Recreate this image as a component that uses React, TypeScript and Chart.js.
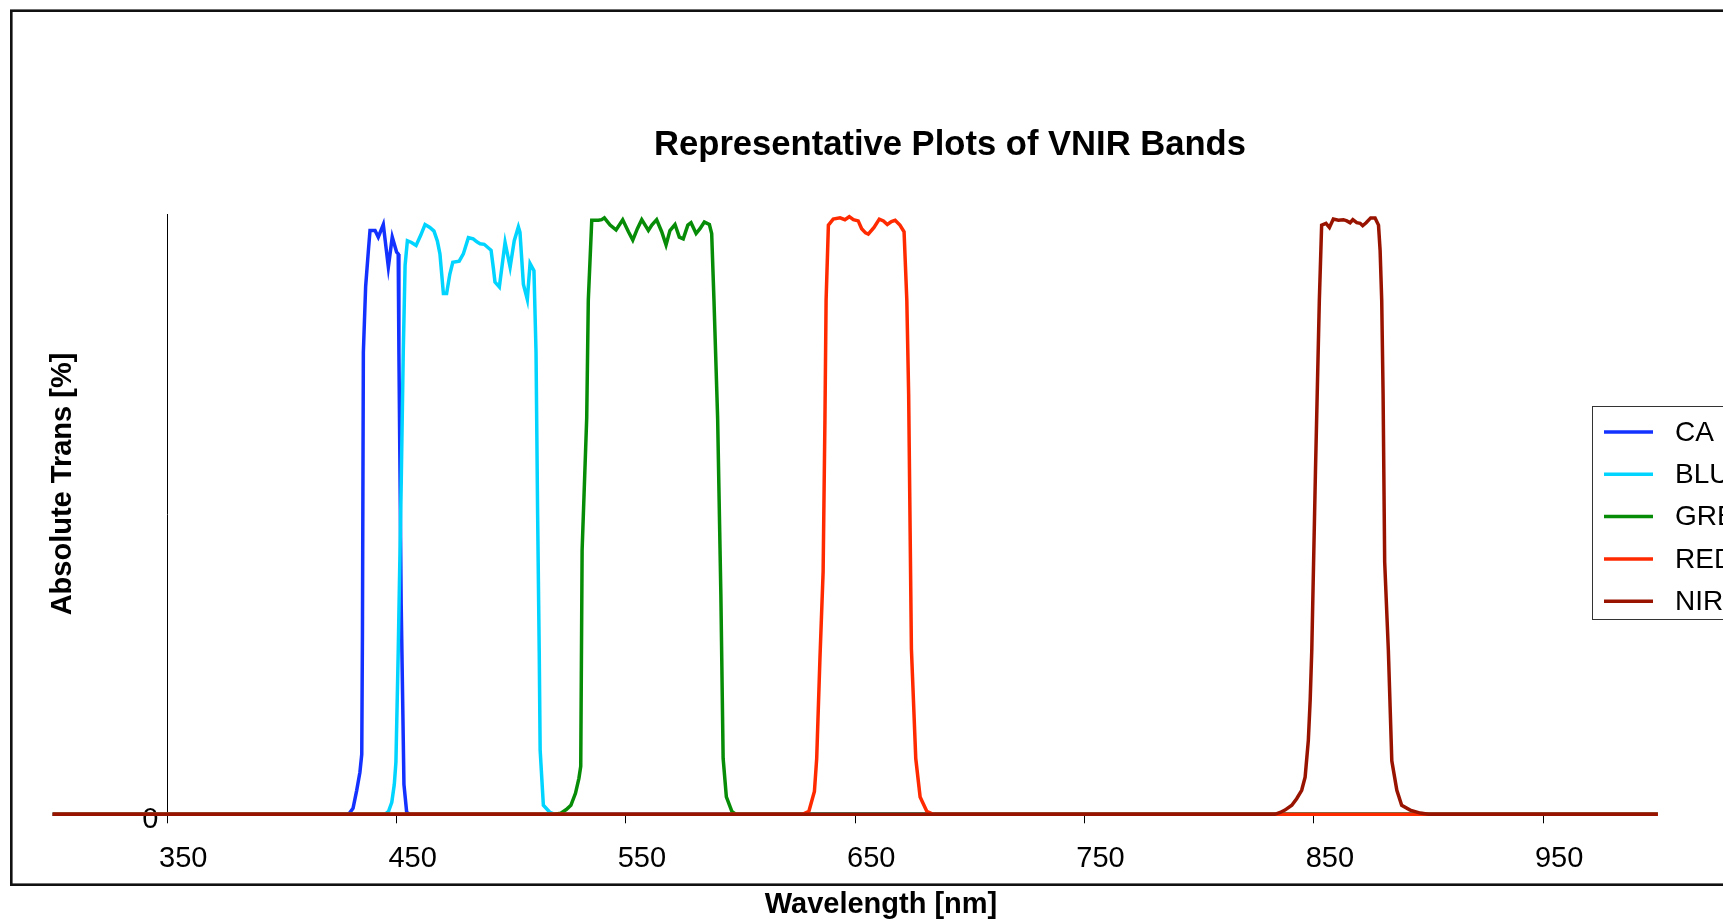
import { useEffect, useRef } from 'react';
import { Chart, registerables } from 'chart.js';

Chart.register(...registerables);

// ---- data ----
const seriesNames = ['CA', 'BLUE', 'GREEN', 'RED', 'NIR'];
const seriesColors = ['#1432FF', '#00D4FF', '#078C07', '#FF2A00', '#991400'];

// [wavelength nm, transmission %]
const caPoints = [
  [300, 0], [428, 0], [429.5, 0.2], [431, 1], [432.6, 4], [434, 7], [434.8, 10], [435.1, 30], [435.5, 77],
  [436.5, 88], [437.7, 94], [438.4, 97.3], [440.6, 97.3], [442, 96.2], [444.2, 98.3], [446.4, 91.2],
  [448.1, 96.2], [450, 93.7], [450.7, 93.4], [451, 77], [452, 35], [453.2, 5], [454.4, 0.3], [456, 0], [1000, 0],
];
const bluePoints = [
  [300, 0], [444.9, 0], [446.5, 0.5], [447.9, 2], [449, 5], [449.7, 8.7], [450.7, 27], [452, 55], [452.9, 77],
  [453.7, 91.5], [454.7, 95.6], [456.5, 95.3], [458.5, 94.8], [460.5, 96.5], [462.4, 98.3], [464.5, 97.8],
  [466.3, 97.2], [467.8, 95.5], [468.9, 93.4], [470.4, 86.8], [471.8, 86.8], [473.2, 90], [474.5, 92],
  [477.3, 92.2], [479.1, 93.4], [481.3, 96.1], [483.4, 95.9], [485, 95.4], [486.4, 95.1], [488.2, 95],
  [491.2, 94], [492.2, 91], [492.9, 88.7], [494.8, 87.9], [497.3, 95.3], [499.5, 91.2], [501.3, 95.6],
  [503.1, 97.9], [503.8, 97], [505.3, 88.3], [507, 85.8], [508.2, 91.8], [509.9, 90.6], [510.8, 77],
  [511.5, 50], [512.2, 27], [512.6, 10.7], [514, 1.5], [516.9, 0.3], [519, 0], [1000, 0],
];
const greenPoints = [
  [300, 0], [519, 0], [521.6, 0.2], [524, 0.8], [526, 1.5], [528, 3.5], [529.5, 6], [530.3, 8], [530.9, 44],
  [532.9, 66], [533.6, 85.7], [535.1, 99], [538, 99], [539.4, 99.1], [540.6, 99.4], [543.1, 98.2],
  [545.7, 97.4], [548.6, 99.1], [551.1, 97.1], [553, 95.7], [555, 97.6], [556.9, 99.1], [559.8, 97.3],
  [561.3, 98.2], [563.4, 99.1], [565.6, 97.1], [567.5, 94.9], [569.2, 97.3], [571.4, 98.3], [573.3, 96.2],
  [575, 95.9], [577, 98.2], [578.4, 98.6], [580.6, 96.8], [582.3, 97.6], [584.2, 98.7], [586.4, 98.3],
  [587.4, 96.8], [588.4, 85.7], [590, 66], [591.4, 36.8], [592.4, 9.3], [593.8, 2.9], [596.2, 0.5],
  [598, 0], [1000, 0],
];
const redPoints = [
  [300, 0], [627, 0], [629.8, 0.5], [632.2, 3.8], [633.2, 9.3], [634.6, 25.8], [636, 40.4], [636.8, 66],
  [637.3, 85.7], [638.3, 98.2], [640.4, 99.2], [643.4, 99.4], [645.5, 99.1], [647.4, 99.6], [649.2, 99.1],
  [651.3, 98.9], [652.8, 97.6], [654.5, 96.9], [655.7, 96.7], [658.2, 97.8], [660.5, 99.2], [662.3, 98.9],
  [664, 98.3], [665.8, 98.8], [667.4, 99], [669.5, 98.2], [671.3, 97.1], [672.5, 85.7], [673.3, 70],
  [674.5, 27.6], [676.4, 9.3], [678.3, 2.9], [681.2, 0.5], [684, 0], [1000, 0],
];
const nirPoints = [
  [300, 0], [833, 0], [835.3, 0.3], [837.4, 0.7], [840.4, 1.5], [842.5, 2.6], [844.7, 4], [846.2, 6.2],
  [847.6, 12.3], [848.4, 19], [849.1, 27.3], [850.7, 57], [852.4, 85.7], [853.4, 98.2], [855.3, 98.5],
  [856.8, 97.8], [858.5, 99.2], [860.7, 99], [862.9, 99.1], [864.4, 98.9], [865.8, 98.6], [867, 99.1],
  [868.7, 98.6], [870.2, 98.5], [871.3, 98.1], [872.8, 98.6], [874.8, 99.4], [876.7, 99.4], [878.2, 98.2],
  [878.9, 94], [879.6, 85.7], [880.2, 70], [880.9, 42], [882.5, 27.3], [884, 8.9], [886.2, 4], [888.3, 1.5],
  [892, 0.7], [896.4, 0.2], [900, 0], [1000, 0],
];
const seriesPoints = [caPoints, bluePoints, greenPoints, redPoints, nirPoints];

const xTickValues = [350, 450, 550, 650, 750, 850, 950];
const yTickValues = [0];

const chartTitle = 'Representative Plots of VNIR Bands';
const xAxisTitle = 'Wavelength [nm]';
const yAxisTitle = 'Absolute Trans [%]';

const FONT = '"Liberation Sans", Arial, Helvetica, sans-serif';

export default function App() {
  const ref = useRef<HTMLCanvasElement>(null);

  useEffect(() => {
    document.body.style.margin = '0';
    document.body.style.overflow = 'hidden';
    const canvas = ref.current;
    if (!canvas) return;

    const framePlugin = {
      id: 'frame',
      beforeDraw(chart: any) {
        const ctx = chart.ctx;
        ctx.save();
        ctx.fillStyle = '#ffffff';
        ctx.fillRect(0, 0, chart.width, chart.height);
        ctx.strokeStyle = '#111111';
        ctx.lineWidth = 2.6;
        ctx.strokeRect(11.3, 10.7, chart.width + 60, 874);
        ctx.restore();
      },
    };

    const textPlugin = {
      id: 'texts',
      afterDraw(chart: any) {
        const ctx = chart.ctx;
        ctx.save();
        ctx.fillStyle = '#000000';
        ctx.textAlign = 'center';
        ctx.textBaseline = 'middle';
        ctx.font = `bold 34.6px ${FONT}`;
        ctx.fillText(chartTitle, 950, 145);
        ctx.font = `bold 29px ${FONT}`;
        ctx.fillText(xAxisTitle, 881, 905);
        ctx.translate(63, 484);
        ctx.rotate(-Math.PI / 2);
        ctx.fillText(yAxisTitle, 0, 0);
        ctx.restore();
      },
    };

    const legendPlugin = {
      id: 'boxLegend',
      afterDraw(chart: any) {
        const ctx = chart.ctx;
        ctx.save();
        ctx.fillStyle = '#ffffff';
        ctx.fillRect(1592.5, 406.5, 200, 213);
        ctx.strokeStyle = '#333333';
        ctx.lineWidth = 1;
        ctx.strokeRect(1592.5, 406.5, 200, 213);
        chart.data.datasets.forEach((ds: any, i: number) => {
          const y = 432 + i * 42.3;
          ctx.strokeStyle = ds.borderColor;
          ctx.lineWidth = 3.5;
          ctx.beginPath();
          ctx.moveTo(1604, y);
          ctx.lineTo(1653, y);
          ctx.stroke();
          ctx.fillStyle = '#000000';
          ctx.font = `28px ${FONT}`;
          ctx.textAlign = 'left';
          ctx.textBaseline = 'middle';
          ctx.fillText(ds.label, 1675, y + 1);
        });
        ctx.restore();
      },
    };

    const chart = new Chart(canvas, {
      type: 'line',
      data: {
        datasets: seriesPoints.map((pts, i) => ({
          label: seriesNames[i],
          data: pts.map(([x, y]) => ({ x, y })),
          borderColor: seriesColors[i],
          backgroundColor: seriesColors[i],
          borderWidth: 3.5,
          pointRadius: 0,
          pointHoverRadius: 0,
          fill: false,
          tension: 0,
          clip: false as any,
          order: seriesPoints.length - i,
        })),
      },
      options: {
        responsive: false,
        animation: false,
        events: [],
        layout: { padding: { left: 0, top: 214.3, right: 65.2, bottom: 0 } },
        plugins: {
          legend: { display: false },
          title: { display: false },
          tooltip: { enabled: false },
        },
        scales: {
          x: {
            type: 'linear',
            position: 'bottom',
            min: 350,
            max: 1000,
            afterBuildTicks: (s: any) => {
              s.ticks = xTickValues.map((v) => ({ value: v }));
            },
            afterFit: (s: any) => {
              s.height = 105.7;
            },
            grid: { drawOnChartArea: false, drawTicks: true, tickLength: 9, color: '#000000', lineWidth: 1 },
            border: { display: true, color: '#000000', width: 1 },
            ticks: {
              padding: 18,
              labelOffset: 16,
              color: '#000000',
              maxRotation: 0,
              autoSkip: false,
              font: { family: FONT, size: 29 },
            },
          },
          y: {
            type: 'linear',
            position: 'left',
            min: 0,
            max: 100,
            afterBuildTicks: (s: any) => {
              s.ticks = yTickValues.map((v) => ({ value: v }));
            },
            afterFit: (s: any) => {
              s.width = 167.3;
            },
            grid: { drawOnChartArea: false, drawTicks: false },
            border: { display: true, color: '#000000', width: 1 },
            ticks: {
              padding: 9,
              labelOffset: 5.5,
              color: '#000000',
              font: { family: FONT, size: 29 },
            },
          },
        },
      },
      plugins: [framePlugin, textPlugin, legendPlugin],
    } as any);

    return () => {
      chart.destroy();
    };
  }, []);

  return <canvas ref={ref} width={1723} height={920} style={{ display: 'block' }} />;
}
